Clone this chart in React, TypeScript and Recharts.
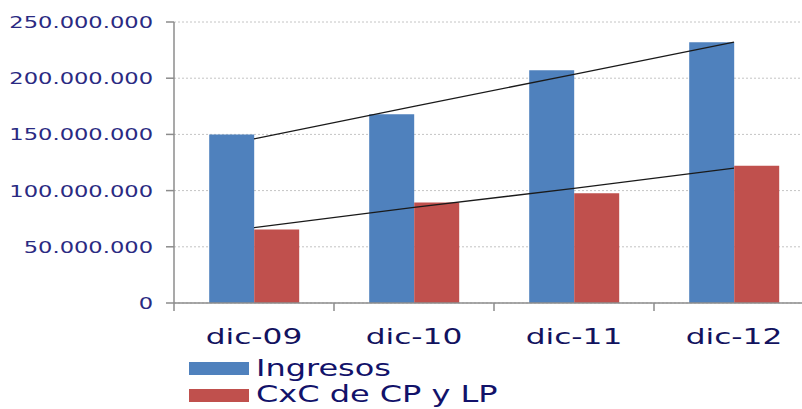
import {
  ComposedChart, Bar, Line, XAxis, YAxis, CartesianGrid,
} from "recharts";

const categories = ["dic-09", "dic-10", "dic-11", "dic-12"];
const ingresos = [150000000, 168000000, 207000000, 232000000];
const cxc = [65500000, 89500000, 97600000, 122000000];
// trend lines
const trendIngresos = [146000000, 175000000, 203500000, 232000000];
const trendCxc = [67000000, 85000000, 102000000, 120000000];
const yTicks = [0, 50000000, 100000000, 150000000, 200000000, 250000000];

const series = [
  { key: "ingresos", name: "Ingresos", color: "#4f81bd" },
  { key: "cxc", name: "CxC de CP y LP", color: "#c0504d" },
];

const data = categories.map((c, i) => ({
  name: c,
  ingresos: ingresos[i],
  cxc: cxc[i],
  tIng: trendIngresos[i],
  tCxc: trendCxc[i],
}));

const FONT = "'DejaVu Sans', Verdana, sans-serif";

function fmtNum(v: number) {
  return v.toString().replace(/\B(?=(\d{3})+(?!\d))/g, ".");
}

function YTick(props: any) {
  const { x, y, payload } = props;
  return (
    <text
      transform={`translate(${x},${y}) scale(1.37,1)`}
      textAnchor="end"
      dy="0.36em"
      fontFamily={FONT}
      fontSize={16.5}
      fill="#2a2a82"
    >
      {fmtNum(payload.value)}
    </text>
  );
}

function XTick(props: any) {
  const { x, y, payload } = props;
  const half = payload.offset ?? 80;
  return (
    <g>
      <line x1={x - half} y1={y} x2={x - half} y2={y + 8} stroke="#8c8c8c" strokeWidth={1.5} />
      <text
        transform={`translate(${x},${y + 41}) scale(1.42,1)`}
        textAnchor="middle"
        fontFamily={FONT}
        fontSize={22}
        fill="#12125e"
      >
        {payload.value}
      </text>
    </g>
  );
}

export default function App() {
  return (
    <div style={{ position: "absolute", left: 0, top: 0, width: 802, height: 409, overflow: "hidden", background: "#fff" }}>
      <ComposedChart
        width={814}
        height={409}
        data={data}
        margin={{ top: 22, right: 0, left: 0, bottom: 56 }}
        barCategoryGap="22%"
        barGap={0}
      >
        <CartesianGrid vertical={false} stroke="#c4c4c4" strokeDasharray="2 2" />
        <XAxis
          dataKey="name"
          height={50}
          axisLine={{ stroke: "#8c8c8c", strokeWidth: 1.5 }}
          tickLine={false}
          tickSize={0}
          tickMargin={0}
          tick={<XTick />}
          interval={0}
        />
        <YAxis
          width={174}
          domain={[0, 250000000]}
          ticks={yTicks}
          axisLine={{ stroke: "#8c8c8c", strokeWidth: 1.5 }}
          tickLine={{ stroke: "#8c8c8c", strokeWidth: 1.5 }}
          tickSize={8}
          tickMargin={13}
          tick={<YTick />}
          interval={0}
        />
        {series.map((s) => (
          <Bar key={s.key} dataKey={s.key} name={s.name} fill={s.color} isAnimationActive={false} />
        ))}
        <Line type="linear" dataKey="tIng" stroke="#1a1a1a" strokeWidth={1.3} dot={false} isAnimationActive={false} />
        <Line type="linear" dataKey="tCxc" stroke="#1a1a1a" strokeWidth={1.3} dot={false} isAnimationActive={false} />
      </ComposedChart>
      <svg width={802} height={409} style={{ position: "absolute", left: 0, top: 0, pointerEvents: "none" }}>
        {series.map((s, i) => (
          <g key={s.key}>
            <rect x={189} y={362 + i * 27} width={60} height={13} fill={s.color} />
            <text
              transform={`translate(256,${376 + i * 26}) scale(1.39,1)`}
              fontFamily={FONT}
              fontSize={23}
              fill="#12126a"
            >
              {s.name}
            </text>
          </g>
        ))}
      </svg>
    </div>
  );
}
